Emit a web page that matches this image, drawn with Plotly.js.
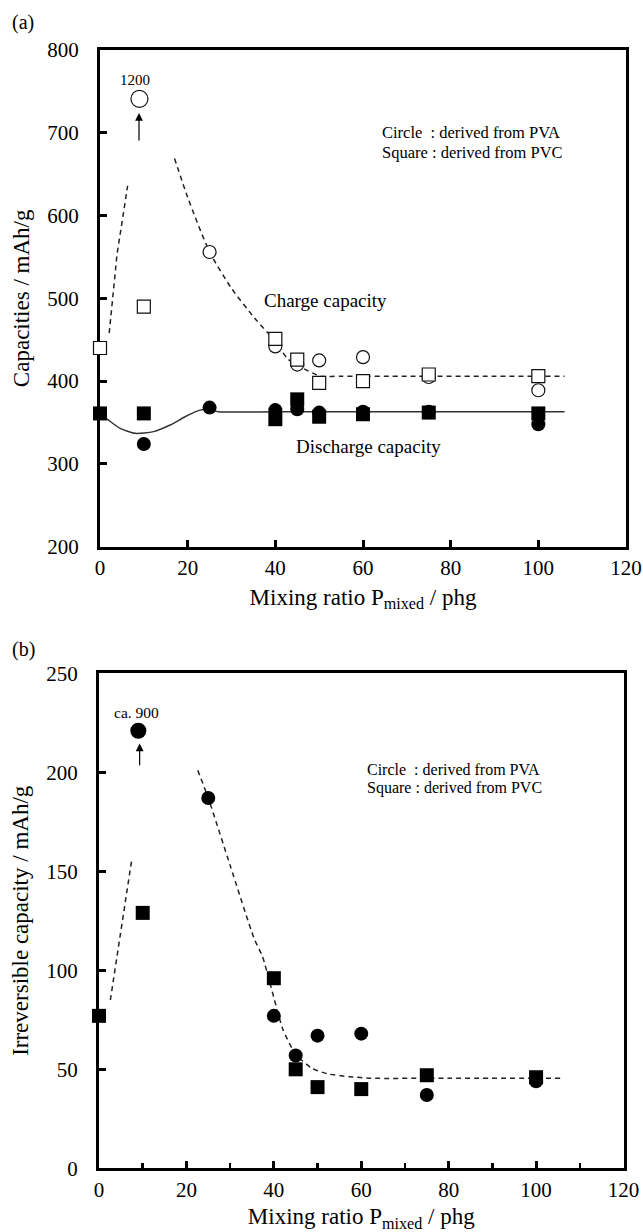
<!DOCTYPE html>
<html>
<head>
<meta charset="utf-8">
<script src="https://cdn.plot.ly/plotly-3.0.1.min.js"></script>
<style>html,body{margin:0;padding:0;background:#fff;}#chart{width:643px;height:1232px;}</style>
</head>
<body>
<div id="chart"></div>
<script>
// ---------- Panel (a): charge / discharge capacities (mAh/g) ----------
const pvaChargeX = [25, 40, 45, 50, 60, 75, 100];
const pvaCharge = [556, 442, 420, 425, 429, 405, 389];
const pvaChargeOffX = [9];          // off-scale point (1200 mAh/g), drawn at top
const pvaChargeOffY = [741];
const pvcChargeX = [0, 10, 40, 45, 50, 60, 75, 100];
const pvcCharge = [440, 490, 451, 426, 398, 400, 408, 406];

const pvaDischargeX = [10, 25, 40, 45, 50, 60, 75, 100];
const pvaDischarge = [324, 368, 365, 366, 362, 363, 363, 348];
const pvcDischargeX = [0, 10, 40, 45, 50, 60, 75, 100];
const pvcDischarge = [361, 361, 354, 378, 357, 360, 362, 361];

// guide curves
const chargeGuide1X = [2.1, 3.0, 3.9, 5.0, 6.3];
const chargeGuide1Y = [458, 509, 554, 591, 636];
const chargeGuide2X = [17, 20, 25, 30, 35.3, 40, 42.8, 46.5, 50.3, 55, 70, 90, 106];
const chargeGuide2Y = [669, 622, 556, 512, 476, 448, 427, 415, 406, 406, 406, 406, 406];
const dischargeGuideX = [0, 1.9, 4.6, 8.0, 12.2, 16.0, 19.4, 22.8, 25, 27, 40, 60, 80, 106];
const dischargeGuideY = [361, 353, 343, 337, 339, 347, 357, 365, 366, 363, 363, 363, 363, 363];

// ---------- Panel (b): irreversible capacity (mAh/g) ----------
const pvaIrrX = [25, 40, 45, 50, 60, 75, 100];
const pvaIrr = [187, 77, 57, 67, 68, 37, 44];
const pvaIrrOffX = [9];             // off-scale point (ca. 900 mAh/g)
const pvaIrrOffY = [221];
const pvcIrrX = [0, 10, 40, 45, 50, 60, 75, 100];
const pvcIrr = [77, 129, 96, 50, 41, 40, 47, 46];

const irrGuide1X = [2.6, 5.2, 7.5];
const irrGuide1Y = [85, 122, 156];
const irrGuide2X = [22.6, 25, 30, 35.5, 37.4, 39.3, 42.1, 44.9, 48.7, 52.5, 57.2, 62, 80, 106];
const irrGuide2Y = [201, 187, 153, 116, 107, 92, 70, 58, 50.5, 47.6, 46.3, 45.5, 45.5, 45.5];

const FONT = "'Liberation Serif', 'Times New Roman', serif";
const dashLine = {color: '#222', width: 1.5, dash: '5px,4px'};
const openC = {symbol: 'circle', size: 13, color: '#fff', line: {color: '#111', width: 1.2}};
const openS = {symbol: 'square', size: 13, color: '#fff', line: {color: '#111', width: 1.2}};
const fillC = {symbol: 'circle', size: 14, color: '#000', line: {width: 0}};
const fillS = {symbol: 'square', size: 14, color: '#000', line: {width: 0}};

function tr(x, y, opts, xa, ya) {
  return Object.assign({x: x, y: y, type: 'scatter', cliponaxis: false, hoverinfo: 'skip',
    xaxis: xa || 'x', yaxis: ya || 'y'}, opts);
}

const data = [
  tr(chargeGuide1X, chargeGuide1Y, {mode: 'lines', line: dashLine}),
  tr(chargeGuide2X, chargeGuide2Y, {mode: 'lines', line: Object.assign({shape: 'spline', smoothing: 0.6}, dashLine)}),
  tr(dischargeGuideX, dischargeGuideY, {mode: 'lines', line: {color: '#333', width: 1.5, shape: 'spline', smoothing: 0.6}}),
  tr(pvaChargeX, pvaCharge, {mode: 'markers', marker: openC}),
  tr(pvaChargeOffX, pvaChargeOffY, {mode: 'markers', marker: Object.assign({}, openC, {size: 17})}),
  tr(pvcChargeX, pvcCharge, {mode: 'markers', marker: openS}),
  tr(pvaDischargeX, pvaDischarge, {mode: 'markers', marker: fillC}),
  tr(pvcDischargeX, pvcDischarge, {mode: 'markers', marker: fillS}),

  tr(irrGuide1X, irrGuide1Y, {mode: 'lines', line: dashLine}, 'x2', 'y2'),
  tr(irrGuide2X, irrGuide2Y, {mode: 'lines', line: Object.assign({shape: 'spline', smoothing: 0.6}, dashLine)}, 'x2', 'y2'),
  tr(pvaIrrX, pvaIrr, {mode: 'markers', marker: fillC}, 'x2', 'y2'),
  tr(pvaIrrOffX, pvaIrrOffY, {mode: 'markers', marker: Object.assign({}, fillC, {size: 16})}, 'x2', 'y2'),
  tr(pvcIrrX, pvcIrr, {mode: 'markers', marker: fillS}, 'x2', 'y2')
];

const W = 643, H = 1232;
function axisBase() {
  return {showline: true, linewidth: 3, linecolor: '#000', mirror: true, showgrid: false, zeroline: false,
    ticks: 'inside', tickcolor: '#000', tickwidth: 3, ticklen: 7, layer: 'below traces',
    tickfont: {family: FONT, size: 21, color: '#000'}, automargin: false};
}
const xTitle = 'Mixing ratio P<sub>mixed</sub> / phg';

const layout = {
  width: W, height: H,
  margin: {l: 0, r: 0, t: 0, b: 0},
  paper_bgcolor: '#fff', plot_bgcolor: '#fff',
  showlegend: false,
  font: {family: FONT, color: '#000'},
  xaxis: Object.assign(axisBase(), {
    domain: [100 / W, 626 / W], anchor: 'y', range: [0, 120], tick0: 0, dtick: 20,
    ticklabelstandoff: 0,
    title: {text: xTitle, font: {family: FONT, size: 23, color: '#000'}, standoff: 10}
  }),
  yaxis: Object.assign(axisBase(), {
    domain: [1 - 546.7 / H, 1 - 50 / H], anchor: 'x', range: [200, 800], tick0: 200, dtick: 100,
    ticklabelstandoff: 14,
    title: {text: 'Capacities / mAh/g', font: {family: FONT, size: 23, color: '#000'}, standoff: 12}
  }),
  xaxis2: Object.assign(axisBase(), {
    domain: [99 / W, 623.5 / W], anchor: 'y2', range: [0, 120], tick0: 0, dtick: 20,
    ticklabelstandoff: 0,
    minor: {dtick: 10, ticks: 'inside', ticklen: 5, tickwidth: 2.5, tickcolor: '#000', showgrid: false},
    title: {text: xTitle, font: {family: FONT, size: 23, color: '#000'}, standoff: 10}
  }),
  yaxis2: Object.assign(axisBase(), {
    domain: [1 - 1168.3 / H, 1 - 673.3 / H], anchor: 'x2', range: [0, 250], tick0: 0, dtick: 50,
    ticklabelstandoff: 14,
    title: {text: 'Irreversible capacity / mAh/g', font: {family: FONT, size: 23, color: '#000'}, standoff: 12}
  }),
  annotations: [
    {xref: 'paper', yref: 'paper', x: 10 / W, y: 1 - 22 / H, xanchor: 'left', yanchor: 'middle',
      text: '(a)', showarrow: false, font: {family: FONT, size: 20, color: '#000'}},
    {xref: 'paper', yref: 'paper', x: 10 / W, y: 1 - 649 / H, xanchor: 'left', yanchor: 'middle',
      text: '(b)', showarrow: false, font: {family: FONT, size: 20, color: '#000'}},

    {xref: 'x', yref: 'y', x: 7.9, y: 764, text: '1200', showarrow: false,
      font: {family: FONT, size: 15, color: '#000'}},
    {xref: 'x', yref: 'y', x: 8.9, y: 724, axref: 'x', ayref: 'y', ax: 8.9, ay: 689, text: '',
      showarrow: true, arrowhead: 2, arrowsize: 1.3, arrowwidth: 1.2, arrowcolor: '#000'},
    {xref: 'x', yref: 'y', x: 63.8, y: 700, xanchor: 'left', text: 'Circle\u00a0\u00a0: derived from PVA',
      showarrow: false, font: {family: FONT, size: 16.5, color: '#000'}},
    {xref: 'x', yref: 'y', x: 63.8, y: 676, xanchor: 'left', text: 'Square : derived from PVC',
      showarrow: false, font: {family: FONT, size: 16.5, color: '#000'}},
    {xref: 'x', yref: 'y', x: 51.5, y: 498, text: 'Charge capacity', showarrow: false,
      font: {family: FONT, size: 19, color: '#000'}},
    {xref: 'x', yref: 'y', x: 61.3, y: 321, text: 'Discharge capacity', showarrow: false,
      font: {family: FONT, size: 19, color: '#000'}},

    {xref: 'x2', yref: 'y2', x: 8.6, y: 230, text: 'ca. 900', showarrow: false,
      font: {family: FONT, size: 15.5, color: '#000'}},
    {xref: 'x2', yref: 'y2', x: 9.3, y: 214.6, axref: 'x2', ayref: 'y2', ax: 9.3, ay: 202.8, text: '',
      showarrow: true, arrowhead: 2, arrowsize: 1.3, arrowwidth: 1.2, arrowcolor: '#000'},
    {xref: 'x2', yref: 'y2', x: 60.8, y: 201.5, xanchor: 'left', text: 'Circle\u00a0\u00a0: derived from PVA',
      showarrow: false, font: {family: FONT, size: 16, color: '#000'}},
    {xref: 'x2', yref: 'y2', x: 60.8, y: 191.9, xanchor: 'left', text: 'Square : derived from PVC',
      showarrow: false, font: {family: FONT, size: 16, color: '#000'}}
  ]
};

Plotly.newPlot('chart', data, layout, {staticPlot: true, displayModeBar: false});
</script>
</body>
</html>
